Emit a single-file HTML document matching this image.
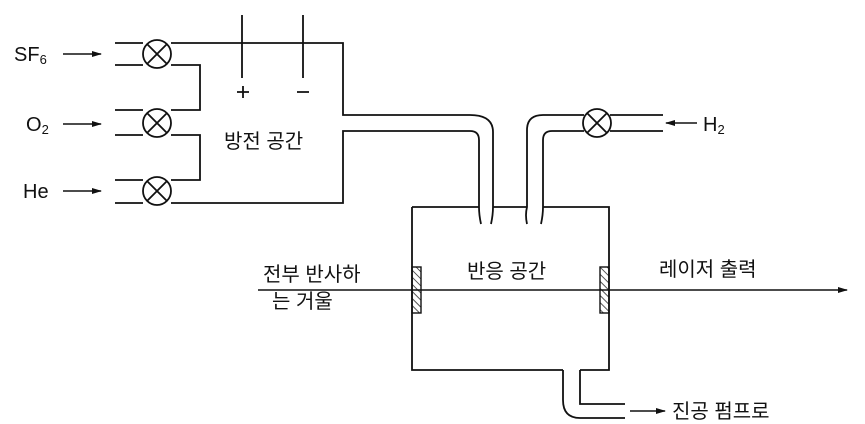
<!DOCTYPE html>
<html><head><meta charset="utf-8"><style>
body{margin:0;background:#fff}
svg{display:block}
text{font-family:"Liberation Sans","Noto Sans CJK KR",sans-serif;fill:#111}
</style></head><body>
<svg width="865" height="424" viewBox="0 0 865 424" xmlns="http://www.w3.org/2000/svg">
<defs>
<marker id="a" markerWidth="10" markerHeight="8" refX="9" refY="4" orient="auto" markerUnits="userSpaceOnUse"><path d="M0,1 L10,4 L0,7 Z" fill="#111"/></marker>
<pattern id="h" width="5" height="5" patternUnits="userSpaceOnUse" patternTransform="rotate(-45)"><line x1="0" y1="0" x2="0" y2="5" stroke="#111" stroke-width="1.4"/></pattern>
</defs>
<g fill="none" stroke="#111" stroke-width="1.8">
<path d="M115,43 H143 M171,43 H343 V115 H470"/>
<path d="M115,65 H143 M171,65 H200 V110 H171 M143,110 H115"/>
<path d="M115,135 H143 M171,135 H200 V180 H171 M143,180 H115"/>
<path d="M115,203 H143 M171,203 H343 V131 H470"/>
<path d="M470,115 Q493,115 493,132 V207 Q493,215 491,224"/>
<path d="M470,131 Q479,131 479,140 V207 Q479,215 481,224"/>
<path d="M527,224 Q525,215 527,207 V130 Q527,115 543,115 H584 M610,115 H663"/>
<path d="M541,224 Q543,215 543,207 V140 Q543,131 552,131 H584 M610,131 H663"/>
<path d="M412,207 H479 M493,207 H527 M543,207 H609 V370 H580 M563,370 H412 V207"/>
<path d="M563,370 V400 Q563,418 580,418 H625"/>
<path d="M580,370 V404 H625"/>
<path d="M242,15 V78 M303,15 V78"/>
<path d="M237,92 H249 M243,86 V98 M297,92 H309"/>
<circle cx="157" cy="54" r="14"/><path d="M147,44 L167,64 M167,44 L147,64"/>
<circle cx="157" cy="123" r="14"/><path d="M147,113 L167,133 M167,113 L147,133"/>
<circle cx="157" cy="191" r="14"/><path d="M147,181 L167,201 M167,181 L147,201"/>
<circle cx="597" cy="123" r="14"/><path d="M587,113 L607,133 M607,113 L587,133"/>
</g>
<g stroke="#111" stroke-width="1.4" fill="none">
<line x1="63" y1="54" x2="101" y2="54" marker-end="url(#a)"/>
<line x1="63" y1="124" x2="101" y2="124" marker-end="url(#a)"/>
<line x1="63" y1="191" x2="101" y2="191" marker-end="url(#a)"/>
<line x1="697" y1="123" x2="666" y2="123" marker-end="url(#a)"/>
<line x1="630" y1="411" x2="665" y2="411" marker-end="url(#a)"/>
<line x1="258" y1="290" x2="847" y2="290" marker-end="url(#a)"/>
</g>
<rect x="412" y="267" width="9" height="46" fill="url(#h)" stroke="#111" stroke-width="1.4"/>
<rect x="600" y="267" width="9" height="46" fill="url(#h)" stroke="#111" stroke-width="1.4"/>
<g font-size="20">
<text x="14" y="61">SF<tspan font-size="13" dy="3">6</tspan></text>
<text x="26" y="131">O<tspan font-size="13" dy="3">2</tspan></text>
<text x="23" y="198">He</text>
<text x="703" y="131">H<tspan font-size="13" dy="3">2</tspan></text>
<text x="224" y="148">방전 공간</text>
<text x="467" y="278">반응 공간</text>
<text x="659" y="276">레이저 출력</text>
<text x="263" y="281">전부 반사하</text>
<text x="272" y="308">는 거울</text>
<text x="672" y="418">진공 펌프로</text>
</g>
</svg>
</body></html>
